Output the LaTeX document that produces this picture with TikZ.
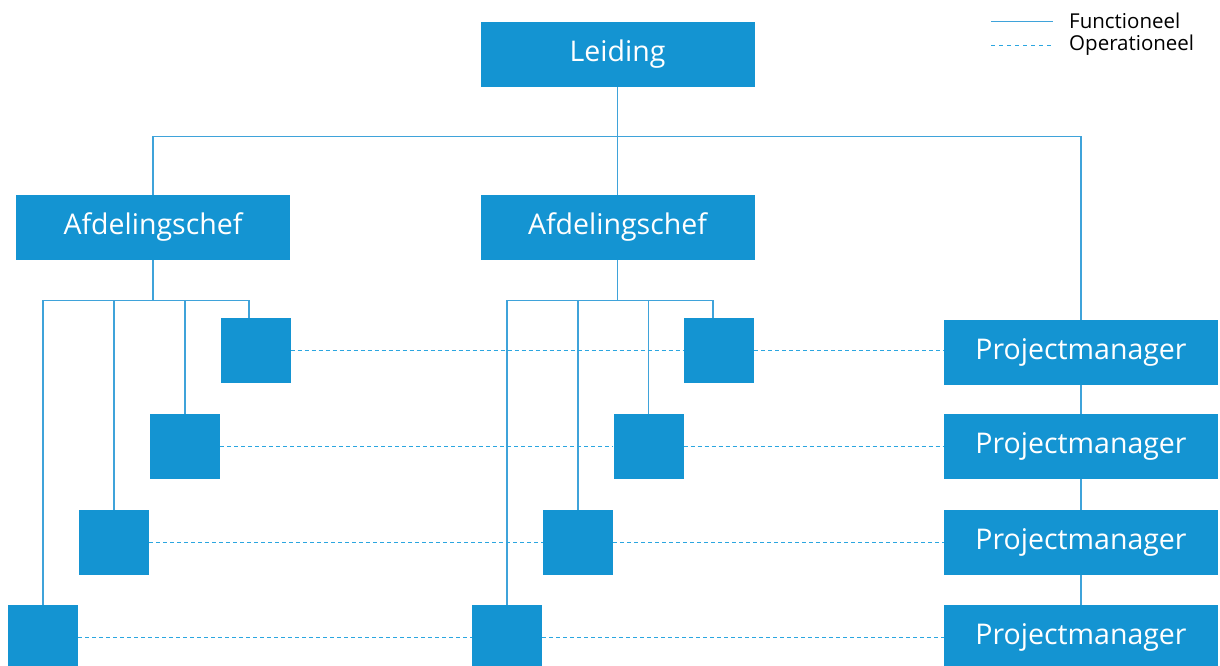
\documentclass[tikz,border=0pt]{standalone}
\usepackage{fontspec}
\setmainfont{Open Sans}
\definecolor{boxblue}{HTML}{1494D2}
\definecolor{lineblue}{HTML}{3FA3DA}
\definecolor{dashblue}{HTML}{2BA6E0}
\begin{document}
\begin{tikzpicture}[x=1pt,y=-1pt,
  unit/.style={fill=boxblue,draw=none,text=white,inner sep=0pt,
    minimum width=274pt,minimum height=65pt,font=\fontsize{28.5}{32}\selectfont},
  member/.style={fill=boxblue,draw=none,inner sep=0pt,
    minimum width=70pt,minimum height=65pt},
  func/.style={draw=lineblue,line width=1.1pt},
  oper/.style={draw=dashblue,line width=1.1pt,dash pattern=on 4pt off 3pt},
  legend/.style={anchor=west,inner sep=0pt,font=\fontsize{20.5}{24}\selectfont}]
\useasboundingbox (0,0) rectangle (1220,666);

% management and department heads
\node[unit] (leid) at (617.5,54.5) {Leiding};
\node[unit] (afd1) at (153,227.5) {Afdelingschef};
\node[unit] (afd2) at (617.5,227.5) {Afdelingschef};

% project managers
\node[unit] (pm1) at (1081,352.5) {Projectmanager};
\node[unit] (pm2) at (1081,446.5) {Projectmanager};
\node[unit] (pm3) at (1081,542.5) {Projectmanager};
\node[unit] (pm4) at (1081,637.5) {Projectmanager};

% staff of the first department
\node[member] (s11) at (255.5,350.5) {};
\node[member] (s12) at (185,446.5) {};
\node[member] (s13) at (114,542.5) {};
\node[member] (s14) at (43,637.5) {};

% staff of the second department
\node[member] (s21) at (719,350.5) {};
\node[member] (s22) at (648.5,446.5) {};
\node[member] (s23) at (578,542.5) {};
\node[member] (s24) at (507,637.5) {};

% functional lines from the top
\draw[func] (leid.south) -- ++(0,49) coordinate (top);
\draw[func] (afd1.north) |- (top) -| (pm1.north);
\draw[func] (afd2.north) -- (afd2.north |- top);

% project manager chain
\draw[func] (pm1.south) -- (pm2.north);
\draw[func] (pm2.south) -- (pm3.north);
\draw[func] (pm3.south) -- (pm4.north);

% first department tree
\draw[func] (afd1.south) -- ++(0,40) coordinate (b1);
\coordinate (t11) at ([xshift=-6.5pt]s11.north);
\draw[func] (s14.north) |- (b1) -| (t11);
\draw[func] (s12.north) -- (s12.north |- b1);
\draw[func] (s13.north) -- (s13.north |- b1);

% second department tree
\draw[func] (afd2.south) -- ++(0,40) coordinate (b2);
\coordinate (t21) at ([xshift=-6pt]s21.north);
\draw[func] (s24.north) |- (b2) -| (t21);
\draw[func] (s22.north) -- (s22.north |- b2);
\draw[func] (s23.north) -- (s23.north |- b2);

% operational lines
\draw[oper] (s11.east) -- (s21.west);
\draw[oper] (s21.east) -- (pm1.west |- s21.east);
\draw[oper] (s12.east) -- (s22.west);
\draw[oper] (s22.east) -- (pm2.west |- s22.east);
\draw[oper] (s13.east) -- (s23.west);
\draw[oper] (s23.east) -- (pm3.west |- s23.east);
\draw[oper] (s14.east) -- (s24.west);
\draw[oper] (s24.east) -- (pm4.west |- s24.east);

% legend
\coordinate (lf) at (991,21);
\coordinate (lo) at (991,45);
\draw[func,line width=0.9pt] (lf) -- ++(62,0) coordinate (lfe);
\draw[oper,line width=0.9pt,dash pattern=on 4pt off 4pt] (lo) -- ++(62,0) coordinate (loe);
\node[legend] (lft) at ([xshift=16pt]lfe) {Functioneel};
\node[legend] (lot) at ([xshift=16pt]loe) {Operationeel};
\end{tikzpicture}
\end{document}
